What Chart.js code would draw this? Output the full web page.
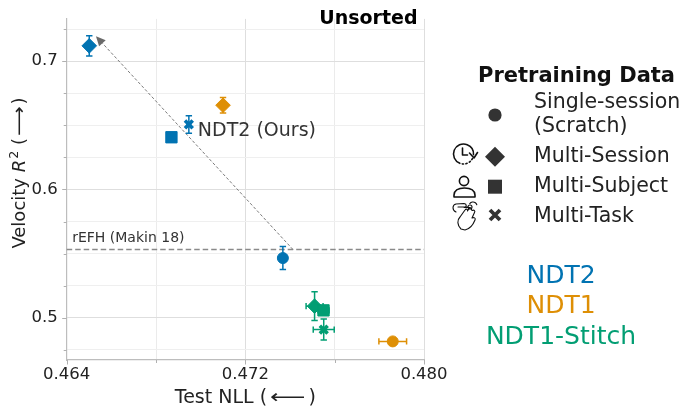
<!DOCTYPE html>
<html><head><meta charset="utf-8">
<script src="https://cdn.jsdelivr.net/npm/chart.js@4.4.1/dist/chart.umd.min.js"></script>
<style>html,body{margin:0;padding:0;background:#fff;}</style>
</head><body>
<canvas id="c" width="680" height="413"></canvas>
<script>
// ---------------- data ----------------
const models  = ['NDT2','NDT2','NDT2','NDT2','NDT1','NDT1','NDT1-Stitch','NDT1-Stitch','NDT1-Stitch'];
const regimes = ['Single-session','Multi-Session','Multi-Subject','Multi-Task','Single-session','Multi-Session','Multi-Session','Multi-Subject','Multi-Task'];
const testNLL = [0.47368,0.46501,0.46869,0.46947,0.47860,0.47100,0.47510,0.47550,0.47551];
const nllErr  = [0.00005,0.00008,0.00005,0.00008,0.00062,0.00005,0.00038,0.00025,0.00047];
const velR2   = [0.5465,0.7120,0.6407,0.6507,0.4815,0.6657,0.5090,0.5057,0.4907];
const r2Err   = [0.0090,0.0079,0.0015,0.0068,0.0010,0.0060,0.0112,0.0030,0.0082];
const xTicks = [0.464,0.468,0.472,0.476,0.480];
const xTickLabels = ['0.464','','0.472','','0.480'];
const yTicks = [0.475,0.5,0.525,0.55,0.575,0.6,0.625,0.65,0.675,0.7,0.725];
const yTickLabels = ['','0.5','','','','0.6','','','','0.7',''];
const xRange = [0.464, 0.480];
const yRange = [0.467, 0.733];
const baselineName = 'rEFH (Makin 18)';
const baselineR2 = 0.5532;
const arrowFrom = [0.47413, 0.5532];
const arrowTo   = [0.46531, 0.7195];
const oursLabel = 'NDT2 (Ours)';
const panelTitle = 'Unsorted';
const xTitleParts = ['Test NLL (', '\u27F5', ')'];
const yTitleParts = ['Velocity ', 'R', '2', ' (', '\u27F6', ')'];
const legendTitle = 'Pretraining Data';
const legendRegimes = ['Single-session','Multi-Session','Multi-Subject','Multi-Task'];
const legendRegimeText = [['Single-session','(Scratch)'],['Multi-Session'],['Multi-Subject'],['Multi-Task']];
const modelNames = ['NDT2','NDT1','NDT1-Stitch'];

// ---------------- style ----------------
const FONT = "'DejaVu Sans', sans-serif";
const modelColors = {'NDT2':'#0173b2','NDT1':'#de8f05','NDT1-Stitch':'#029e73'};
const regimeStyle = {'Single-session':'circle','Multi-Session':'rectRot','Multi-Subject':'rect','Multi-Task':'crossRot'};
const regimeRadius = {'Single-session':5.5,'Multi-Session':7.3,'Multi-Subject':8,'Multi-Task':5.5};

const datasets = modelNames.map(m => {
  const idx = models.map((mm,i)=>mm===m?i:-1).filter(i=>i>=0);
  return {
    label: m,
    data: idx.map(i=>({x:testNLL[i], y:velR2[i], xe:nllErr[i], ye:r2Err[i]})),
    pointStyle: idx.map(i=>regimeStyle[regimes[i]]),
    pointRadius: idx.map(i=>regimeRadius[regimes[i]]),
    pointBorderWidth: idx.map(i=>regimes[i]==='Multi-Task'?3.6:1),
    backgroundColor: modelColors[m],
    borderColor: modelColors[m],
    pointHoverRadius: idx.map(i=>regimeRadius[regimes[i]])
  };
});

function drawMarker(ctx, style, x, y, r, color, lw){
  ctx.save();
  ctx.fillStyle = color; ctx.strokeStyle = color;
  ctx.beginPath();
  if (style==='circle'){ ctx.arc(x,y,r,0,Math.PI*2); ctx.fill(); }
  else if (style==='rectRot'){ ctx.moveTo(x-r,y); ctx.lineTo(x,y-r); ctx.lineTo(x+r,y); ctx.lineTo(x,y+r); ctx.closePath(); ctx.fill(); }
  else if (style==='rect'){ ctx.rect(x-r,y-r,2*r,2*r); ctx.fill(); }
  else if (style==='crossRot'){ ctx.lineWidth = lw||4; ctx.moveTo(x-r,y-r); ctx.lineTo(x+r,y+r); ctx.moveTo(x+r,y-r); ctx.lineTo(x-r,y+r); ctx.stroke(); }
  ctx.restore();
}

function drawIcons(ctx){
  ctx.save();
  ctx.strokeStyle = '#111'; ctx.fillStyle = '#111'; ctx.lineWidth = 1.6; ctx.lineCap = 'round'; ctx.lineJoin = 'round';
  // clock
  const cx = 463.5, cy = 154, r = 10;
  ctx.beginPath(); ctx.arc(cx, cy, r, Math.PI*0.62, Math.PI*2.02); ctx.stroke();
  ctx.setLineDash([1.2,2.4]);
  ctx.beginPath(); ctx.arc(cx, cy, r, Math.PI*0.15, Math.PI*0.58); ctx.stroke();
  ctx.setLineDash([]);
  ctx.beginPath(); ctx.moveTo(cx+r-4, cy-1); ctx.lineTo(cx+r+0.5, cy+4); ctx.lineTo(cx+r+4, cy-1.5); ctx.stroke();
  ctx.beginPath(); ctx.moveTo(cx-1, cy-6); ctx.lineTo(cx-1, cy+1); ctx.lineTo(cx+4, cy+1); ctx.stroke();
  // person
  ctx.beginPath(); ctx.arc(464, 181, 4.6, 0, Math.PI*2); ctx.stroke();
  ctx.beginPath(); ctx.moveTo(454, 197); ctx.lineTo(454, 195);
  ctx.quadraticCurveTo(454.5, 188, 464.5, 188); ctx.quadraticCurveTo(474.5, 188, 475, 195);
  ctx.lineTo(475, 197); ctx.closePath(); ctx.stroke();
  // hands
  ctx.lineWidth = 1.1;
  ctx.beginPath();
  ctx.moveTo(456,212); ctx.bezierCurveTo(452,210,452,205,456,204); ctx.lineTo(464,203.5); ctx.bezierCurveTo(467,204,467,207,464,207.5); ctx.lineTo(470,207.5);
  ctx.moveTo(458,207); ctx.lineTo(468,207);
  ctx.stroke();
  ctx.beginPath(); ctx.arc(470,207,2,0,Math.PI*2); ctx.stroke();
  ctx.beginPath();
  ctx.moveTo(461,229); ctx.bezierCurveTo(457,225,457,220,460,217);
  ctx.lineTo(465,210); ctx.bezierCurveTo(466,208.5,468,209,467.5,211);
  ctx.lineTo(469,208.5); ctx.bezierCurveTo(470,207,472,208,471.5,210);
  ctx.lineTo(472.5,210.5); ctx.bezierCurveTo(474,209.5,475.5,211,474.5,212.5);
  ctx.lineTo(472,218); ctx.bezierCurveTo(474,217,476,218,475,220);
  ctx.bezierCurveTo(473,225,470,229,465,230); ctx.closePath();
  ctx.stroke();
  ctx.beginPath(); ctx.arc(473,206,4,Math.PI*1.2,Math.PI*1.9); ctx.stroke();
  ctx.restore();
}

// draw a run of text pieces: [text, font, dy, xScale, gapBefore]
function drawRun(ctx, pieces, cx, baseY){
  let tot = 0;
  pieces.forEach(p => { ctx.font = p[1]; tot += (p[4]||0) + ctx.measureText(p[0]).width * (p[3]||1); });
  let px = cx - tot/2;
  ctx.textAlign = 'left';
  pieces.forEach(p => {
    ctx.font = p[1]; px += (p[4]||0);
    const w = ctx.measureText(p[0]).width * (p[3]||1);
    ctx.save(); ctx.translate(px, baseY + (p[2]||0)); ctx.scale(p[3]||1, 1); ctx.fillText(p[0], 0, 0); ctx.restore();
    px += w;
  });
}

const overlay = {
  id: 'overlay',
  beforeDatasetsDraw(chart){
    const {ctx, chartArea:a, scales:{x, y}} = chart;
    ctx.save();
    // baseline
    const by = y.getPixelForValue(baselineR2);
    ctx.strokeStyle = '#8a8a8a'; ctx.lineWidth = 1.6; ctx.setLineDash([5.5,3]);
    ctx.beginPath(); ctx.moveTo(a.left, by); ctx.lineTo(a.right, by); ctx.stroke();
    ctx.setLineDash([]);
    ctx.fillStyle = '#333'; ctx.font = '14px ' + FONT; ctx.textBaseline = 'alphabetic'; ctx.textAlign = 'left';
    ctx.fillText(baselineName, a.left + 5.5, by - 7.5);
    // arrow
    const x0 = x.getPixelForValue(arrowFrom[0]), y0 = y.getPixelForValue(arrowFrom[1]);
    const x1 = x.getPixelForValue(arrowTo[0]),   y1 = y.getPixelForValue(arrowTo[1]);
    const ang = Math.atan2(y1-y0, x1-x0), hl = 9.5, hw = 4.5;
    const bx = x1 - hl*Math.cos(ang), byy = y1 - hl*Math.sin(ang);
    ctx.strokeStyle = '#7a7a7a'; ctx.lineWidth = 1; ctx.setLineDash([3,2]);
    ctx.beginPath(); ctx.moveTo(x0,y0); ctx.lineTo(bx,byy); ctx.stroke();
    ctx.setLineDash([]);
    ctx.fillStyle = '#6a6a6a';
    ctx.beginPath(); ctx.moveTo(x1,y1);
    ctx.lineTo(bx + hw*Math.sin(ang), byy - hw*Math.cos(ang));
    ctx.lineTo(bx - hw*Math.sin(ang), byy + hw*Math.cos(ang)); ctx.closePath(); ctx.fill();
    // error bars
    chart.data.datasets.forEach(ds => {
      ctx.strokeStyle = ds.borderColor; ctx.lineWidth = 1.5;
      ds.data.forEach(p => {
        const px = x.getPixelForValue(p.x), py = y.getPixelForValue(p.y);
        const ya = y.getPixelForValue(p.y - p.ye), yb = y.getPixelForValue(p.y + p.ye);
        const xa = x.getPixelForValue(p.x - p.xe), xb = x.getPixelForValue(p.x + p.xe);
        const c = 3.2;
        ctx.beginPath();
        ctx.moveTo(px, ya); ctx.lineTo(px, yb);
        ctx.moveTo(px-c, ya); ctx.lineTo(px+c, ya);
        ctx.moveTo(px-c, yb); ctx.lineTo(px+c, yb);
        ctx.moveTo(xa, py); ctx.lineTo(xb, py);
        ctx.moveTo(xa, py-c); ctx.lineTo(xa, py+c);
        ctx.moveTo(xb, py-c); ctx.lineTo(xb, py+c);
        ctx.stroke();
      });
    });
    ctx.restore();
  },
  afterDraw(chart){
    const {ctx, chartArea:a, scales:{x, y}} = chart;
    ctx.save();
    ctx.textBaseline = 'alphabetic';
    // tick marks
    ctx.strokeStyle = '#b0b0b0'; ctx.lineWidth = 1;
    xTicks.forEach((v,i) => { const px = Math.round(x.getPixelForValue(v))+0.5; const L = xTickLabels[i] ? 4.5 : 3;
      ctx.beginPath(); ctx.moveTo(px, a.bottom); ctx.lineTo(px, a.bottom + L); ctx.stroke(); });
    yTicks.forEach((v,i) => { const py = Math.round(y.getPixelForValue(v))+0.5; const L = yTickLabels[i] ? 4.5 : 3;
      ctx.beginPath(); ctx.moveTo(a.left, py); ctx.lineTo(a.left - L, py); ctx.stroke(); });
    // ours label
    const oi = regimes.findIndex((r,i)=>r==='Multi-Task' && models[i]==='NDT2');
    const ox = x.getPixelForValue(testNLL[oi]), oy = y.getPixelForValue(velR2[oi]);
    ctx.fillStyle = '#333'; ctx.font = '19px ' + FONT; ctx.textAlign = 'left';
    ctx.fillText(oursLabel, ox + 9, oy + 12);
    // panel title
    ctx.fillStyle = '#000'; ctx.font = 'bold 19px ' + FONT; ctx.textAlign = 'right';
    ctx.fillText(panelTitle, a.right - 6.5, 24);
    // axis titles
    ctx.fillStyle = '#222';
    drawRun(ctx, [[xTitleParts[0], '19px ' + FONT, 0, 1, 0], [xTitleParts[1], '19px ' + FONT, 0, 1.3, 3], [xTitleParts[2], '19px ' + FONT, 0, 1, 3]], (a.left + a.right)/2, 403);
    ctx.save();
    ctx.translate(25, 173); ctx.rotate(-Math.PI/2);
    drawRun(ctx, [
      [yTitleParts[0], '18px ' + FONT, 0, 1, 0],
      [yTitleParts[1], 'italic 18px ' + FONT, 0, 1, 0],
      [yTitleParts[2], '12.5px ' + FONT, -7.5, 1, 1],
      [yTitleParts[3], '18px ' + FONT, 0, 1, 0],
      [yTitleParts[4], '18px ' + FONT, 0, 1.15, 2],
      [yTitleParts[5], '18px ' + FONT, 0, 1, 2]
    ], 0, 0);
    ctx.restore();
    // legend
    ctx.textAlign = 'left'; ctx.fillStyle = '#111'; ctx.font = 'bold 21px ' + FONT;
    ctx.fillText(legendTitle, 478, 82);
    const rowText = [[108.3, 131.7], [161.7], [191.7], [221.7]];
    const rowMarkY = [115, 156.7, 186.7, 215];
    const rowMarkR = [6.6, 10, 7, 5];
    ctx.font = '20.5px ' + FONT; ctx.fillStyle = '#222';
    legendRegimes.forEach((r, i) => {
      legendRegimeText[i].forEach((t, j) => ctx.fillText(t, 534, rowText[i][j]));
      drawMarker(ctx, regimeStyle[r], 495, rowMarkY[i], rowMarkR[i], '#333', 3.8);
    });
    drawIcons(ctx);
    // model labels
    ctx.textAlign = 'center'; ctx.font = '25px ' + FONT;
    const mY = [283, 313, 344];
    modelNames.forEach((m, i) => { ctx.fillStyle = modelColors[m]; ctx.fillText(m, 561, mY[i]); });
    ctx.restore();
  }
};

new Chart(document.getElementById('c'), {
  type: 'scatter',
  data: { datasets },
  options: {
    responsive: false, animation: false,
    layout: { padding: { left: 0, top: 5, right: 256, bottom: 0 } },
    plugins: { legend: { display: false }, tooltip: { enabled: false } },
    scales: {
      x: {
        min: xRange[0], max: xRange[1],
        afterBuildTicks: s => { s.ticks = xTicks.map(v => ({value: v})); },
        afterFit: s => { s.height = 53; },
        ticks: { callback: (v, i) => xTickLabels[i], color: '#222', font: { size: 16.5, family: FONT }, padding: 5, maxRotation: 0, autoSkip: false },
        grid: { drawTicks: false, color: c => (xTickLabels[c.index] ? '#dedede' : '#ebebeb'), lineWidth: 1 },
        border: { display: true, color: '#bdbdbd', width: 1.2 }
      },
      y: {
        min: yRange[0], max: yRange[1],
        afterBuildTicks: s => { s.ticks = yTicks.map(v => ({value: v})); },
        afterFit: s => { s.width = 66.7; },
        ticks: { callback: (v, i) => yTickLabels[i], color: '#222', font: { size: 16.5, family: FONT }, padding: 9, autoSkip: false },
        grid: { drawTicks: false, color: c => (yTickLabels[c.index] ? '#dedede' : '#efefef'), lineWidth: 1 },
        border: { display: true, color: '#bdbdbd', width: 1.2 }
      }
    }
  },
  plugins: [overlay]
});
</script>
</body></html>
